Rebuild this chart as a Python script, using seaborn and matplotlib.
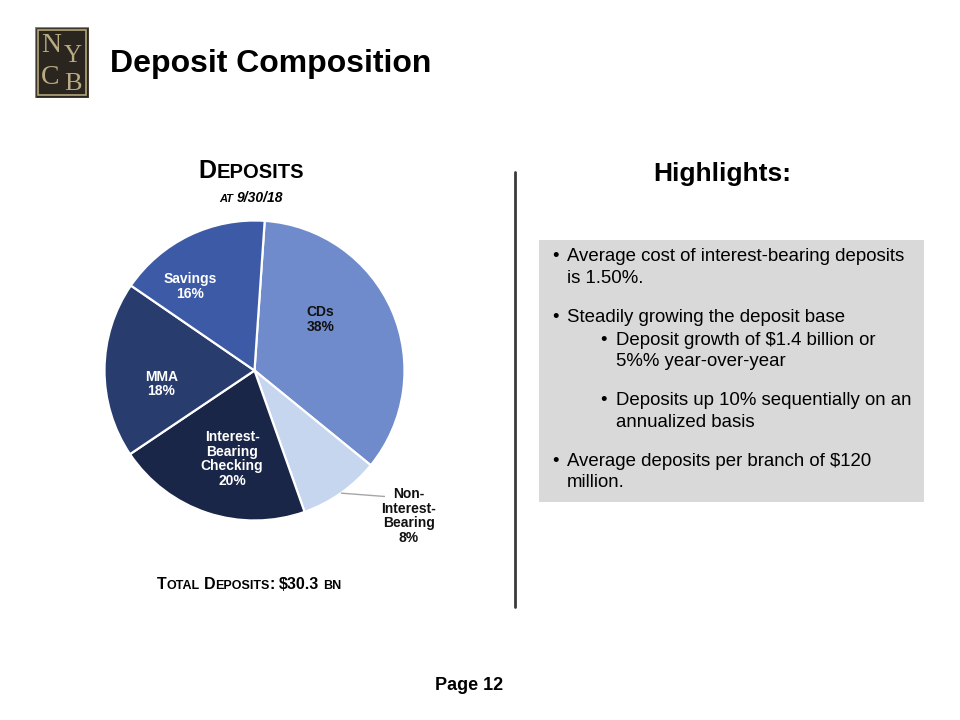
import matplotlib
matplotlib.use("Agg")
import matplotlib.pyplot as plt
import seaborn as sns
import numpy as np
from matplotlib.patches import Rectangle

# ---------------- data ----------------
categories = ["CDs", "Non-\nInterest-\nBearing", "Interest-\nBearing\nChecking", "MMA", "Savings"]
shares = [34.8, 8.7, 21.0, 19.0, 16.5]          # slice sizes as drawn
pct_labels = [38, 8, 20, 18, 16]                 # printed percentages
slice_colors = ["#6F8BCB", "#C6D6EE", "#1A2648", "#283C6E", "#3D5AA6"]
label_colors = ["#111111", "#111111", "white", "white", "white"]

title = "Deposit Composition"
highlights = [
    (1, ["Average cost of interest-bearing deposits", "is 1.50%."], True),
    (1, ["Steadily growing the deposit base"], True),
    (2, ["Deposit growth of $1.4 billion or", "5%% year-over-year"], False),
    (2, ["Deposits up 10% sequentially on an", "annualized basis"], True),
    (1, ["Average deposits per branch of $120", "million."], True),
]

# ---------------- style ----------------
sns.set_theme(style="white")
plt.rcParams["font.family"] = ["Liberation Sans", "DejaVu Sans"]

W, H = 960, 720
fig = plt.figure(figsize=(9.6, 7.2), dpi=100, facecolor="white")
renderer = fig.canvas.get_renderer()

def fx(x): return x / W
def fy(y): return 1 - y / H

# ---------------- logo ----------------
lax = fig.add_axes([fx(35), fy(98), 54 / W, 71 / H])
lax.set_xlim(0, 54); lax.set_ylim(0, 71); lax.axis("off")
lax.add_patch(Rectangle((0, 0), 54, 71, facecolor="#2A251F", edgecolor="#8C8470", lw=1.0))
lax.add_patch(Rectangle((3, 3), 48, 65, facecolor="none", edgecolor="#B3A57C", lw=1.2))
serif = ["Liberation Serif", "DejaVu Serif"]
gold = "#B9AB82"
lax.text(16, 53, "N", family=serif, fontsize=20, color=gold, ha="center", va="center")
lax.text(38, 42, "Y", family=serif, fontsize=18, color=gold, ha="center", va="center")
lax.text(15, 20, "C", family=serif, fontsize=20, color=gold, ha="center", va="center")
lax.text(38, 14, "B", family=serif, fontsize=19, color=gold, ha="center", va="center")

# ---------------- title ----------------
fig.text(fx(110), fy(64), title, fontsize=23, fontweight="bold", color="black",
         ha="left", va="center")

# ---------------- small caps helper ----------------
def smallcaps(cx, by, parts, **kw):
    items = []
    for s, sz in parts:
        if s == " ":
            items.append((None, 0.28 * sz * 100 / 72))
        else:
            t = fig.text(0, fy(by), s, fontsize=sz, ha="left", va="baseline", **kw)
            items.append((t, t.get_window_extent(renderer).width))
    total = sum(w for _, w in items)
    x = cx - total / 2
    for t, w in items:
        if t is not None:
            t.set_x(fx(x))
        x += w

smallcaps(251, 178.5, [("D", 18), ("EPOSITS", 14.5)], fontweight="bold", color="black")
smallcaps(251, 202, [("AT", 8), (" ", 10), ("9/30/18", 10)], fontweight="bold",
          fontstyle="italic", color="black")
smallcaps(249, 589, [("T", 11.5), ("OTAL", 9), (" ", 11), ("D", 11.5), ("EPOSITS", 9),
                     (":", 11.5), (" ", 11), ("$30.3", 11.5), (" ", 9), ("BN", 9)],
          fontweight="bold", color="black")

# ---------------- pie ----------------
R = 150
cx, cy = 254.5, 370.5
ax = fig.add_axes([fx(cx - R), fy(cy + R), 2 * R / W, 2 * R / H])
wedges, _ = ax.pie(shares, colors=slice_colors, startangle=86.1, counterclock=False,
                   radius=1.0, wedgeprops=dict(edgecolor="white", linewidth=1.6))
ax.set_xlim(-1, 1); ax.set_ylim(-1, 1); ax.set_aspect("equal"); ax.axis("off")

label_pos = [(0.44, 0.34), (1.03, -0.97), (-0.15, -0.59), (-0.62, -0.09), (-0.43, 0.56)]
for cat, p, col, (lx, ly) in zip(categories, pct_labels, label_colors, label_pos):
    ax.text(lx, ly, f"{cat}\n{p}%", ha="center", va="center", fontsize=10,
            fontweight="bold", color=col, linespacing=1.08, clip_on=False)

# leader line for Non-Interest-Bearing
w = wedges[1]
mid = np.deg2rad((w.theta1 + w.theta2) / 2)
ax.plot([np.cos(mid), 0.87], [np.sin(mid), -0.84], color="#A6A6A6", lw=1.0,
        clip_on=False, solid_capstyle="butt")

# ---------------- divider ----------------
fig.add_artist(plt.Line2D([fx(515), fx(515)], [fy(172), fy(607)], color="#3A3A3A", lw=2))

# ---------------- highlights ----------------
fig.text(fx(722), fy(174), "Highlights:", fontsize=19, fontweight="bold",
         ha="center", va="center", color="black")
fig.add_artist(Rectangle((fx(539), fy(502)), (924 - 539) / W, (502 - 240) / H,
                         transform=fig.transFigure, facecolor="#D9D9D9", edgecolor="none"))

y = 256.7
line_h = 21.7
para_gap = 17.0
first = True
for level, lines, gap in highlights:
    if not first:
        y += line_h + (para_gap if gap else 1.5)
    first = False
    bx, tx = (552, 567) if level == 1 else (600, 616)
    fig.text(fx(bx), fy(y), "\u2022", fontsize=13.4, ha="left", va="center", color="black")
    for i, ln in enumerate(lines):
        if i > 0:
            y += line_h
        fig.text(fx(tx), fy(y), ln, fontsize=13.4, ha="left", va="center", color="black")

# ---------------- page number ----------------
fig.text(fx(469), fy(686), "Page 12", fontsize=13, fontweight="bold",
         ha="center", va="center", color="black")

fig.savefig("out.png", dpi=100, facecolor="white")
